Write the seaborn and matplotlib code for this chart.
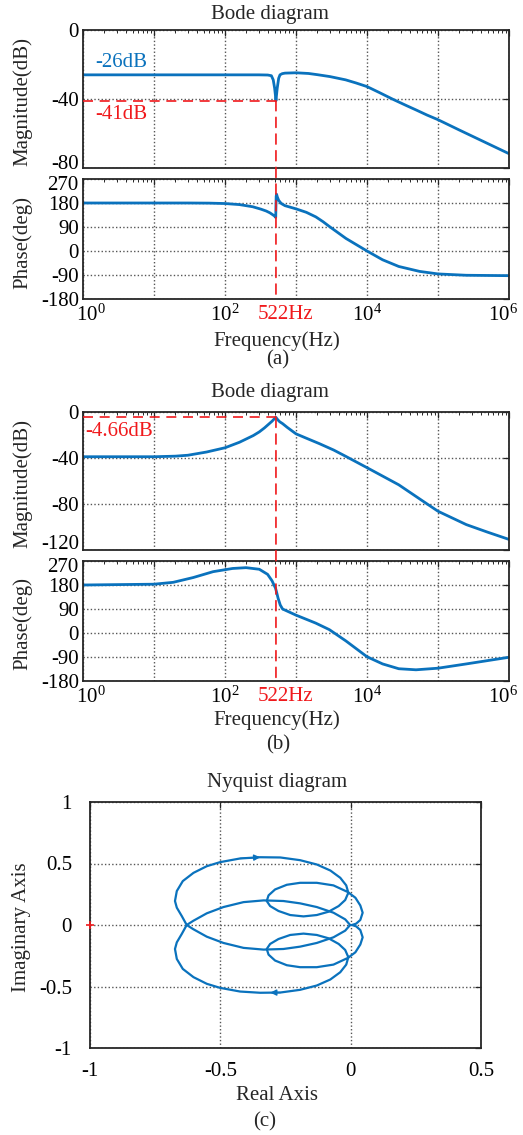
import numpy as np
import matplotlib
matplotlib.use("Agg")
import matplotlib.pyplot as plt
from matplotlib.patches import ConnectionPatch
from matplotlib.ticker import FixedLocator, FuncFormatter, LogLocator, NullFormatter
from matplotlib.transforms import ScaledTranslation
import seaborn as sns

# ------------------------------------------------------------------ data
f_res = 522            # resonance frequency, Hz
f_min, f_max = 1, 1e6  # Bode frequency span

# (a) open-loop response with notch
a_flat_db = -26
a_notch_db = -41
a_mag_freq = [1, 10, 100, 200, 300, 400, 450, 478, 500, 512,
              522, 532, 544, 570, 595, 640, 700, 1000, 1500, 2000,
              3000, 5000, 7000, 1e4, 1.5e4, 2.3e4, 3.5e4, 5e4, 7e4, 1e5,
              2e5, 5e5, 1e6]
a_mag_db = [-26, -26, -26, -26, -26, -26.1, -26.5, -28.9, -33.7, -37.5,
            -41, -37.5, -33.7, -28, -26, -25.3, -25.0, -24.8, -25.2, -25.9,
            -27.0, -28.9, -30.7, -32.8, -36.3, -40.1, -43.6, -46.5, -49.3, -52.0,
            -58.0, -65.8, -71.7]
a_ph_freq = [1, 10, 30, 60, 100, 160, 245, 320, 380, 430,
             470, 500, 512, 518, 522, 526, 532, 545, 570, 620,
             700, 1000, 1400, 1900, 2400, 2950, 5060, 1e4, 1.66e4, 2.8e4,
             5.5e4, 1e5, 2.5e5, 1e6]
a_ph_deg = [180, 180, 180, 179.5, 178, 174, 166, 157, 150, 143,
            136, 131, 127, 126, 170, 205, 213, 203, 190, 178,
            170, 158, 145, 128, 110, 92, 47, 0, -33, -58,
            -76.5, -86, -91, -92.5]

# (b) open-loop response with resonance peak
b_peak_db = -4.66
b_mag_freq = [1, 10, 20, 30, 55, 100, 160, 250, 304, 360,
              421, 460, 490, 510, 522, 535, 555, 590, 647, 750,
              1000, 1400, 2130, 3400, 5000, 1e4, 2.8e4, 6.2e4, 1e5, 2.5e5,
              5e5, 1e6]
b_mag_db = [-38.9, -38.9, -38.4, -37.6, -34.8, -31.1, -26.3, -20.5, -17.3, -13.8,
            -10.1, -8.0, -6.2, -5.2, -4.66, -5.6, -6.8, -8.5, -10.1, -13.3,
            -19.0, -22.8, -27.5, -33.1, -38.5, -48.4, -63.3, -77.7, -86.3, -97.9,
            -104.5, -110.8]
b_ph_freq = [1, 10, 18.6, 35.7, 68, 128, 198, 304, 398, 459,
             494, 515, 533, 560, 600, 647, 1000, 1900, 2950, 5060,
             1e4, 1.66e4, 2.8e4, 4.9e4, 1e5, 2.5e5, 1e6]
b_ph_deg = [180, 183, 190, 208, 230, 242, 245, 239, 220, 196,
            178, 168, 153, 130, 105, 90, 67, 37, 12.6, -30,
            -89, -116, -134, -138, -132, -116, -91]

# (c) Nyquist locus, one frequency branch (the other is its conjugate)
nyq_re = [-0.002, -0.021, -0.066, -0.130, -0.194, -0.258, -0.334, -0.411, -0.488, -0.552, -0.603, -0.629,
          -0.648, -0.667, -0.674, -0.667, -0.644, -0.603, -0.552, -0.501, -0.424, -0.347,
          -0.270, -0.194, -0.130, -0.078, -0.040, -0.017, -0.009, -0.021, -0.046, -0.085,
          -0.130, -0.181, -0.232, -0.277, -0.309, -0.322, -0.315, -0.290, -0.245, -0.194,
          -0.130, -0.066, -0.011, 0.018, 0.037, 0.046, 0.037, 0.021, 0.005]
nyq_im = [0, -0.046, -0.100, -0.146, -0.176, -0.195, -0.200, -0.186, -0.146, -0.095, -0.035, 0,
          0.073, 0.141, 0.195, 0.276, 0.357, 0.424, 0.478, 0.511, 0.541, 0.551,
          0.549, 0.527, 0.492, 0.443, 0.384, 0.322, 0.262, 0.203, 0.154, 0.108,
          0.081, 0.070, 0.081, 0.114, 0.154, 0.195, 0.241, 0.289, 0.327, 0.343,
          0.343, 0.322, 0.268, 0.222, 0.159, 0.100, 0.041, 0.011, 0]
critical_point = (-1, 0)

mag_ticks_a = [-80, -40, 0]
mag_ticks_b = [-120, -80, -40, 0]
phase_ticks = [-180, -90, 0, 90, 180, 270]
nyq_xticks = [-1, -0.5, 0, 0.5]
nyq_yticks = [-1, -0.5, 0, 0.5, 1]

# ------------------------------------------------------------------ style
sns.set_theme(style="white")
plt.rcParams["font.family"] = ["Liberation Serif", "DejaVu Serif"]
plt.rcParams["mathtext.fontset"] = "custom"
plt.rcParams["mathtext.rm"] = "Liberation Serif"
plt.rcParams["mathtext.it"] = "Liberation Serif:italic"
plt.rcParams["axes.unicode_minus"] = False

FS = 15
BLUE = "#0a72bd"
RED = "#f0191c"
EDGE = "#262626"
GRID = "#555555"
W, H = 523, 1135

fig = plt.figure(figsize=(W / 100, H / 100), dpi=100)


def px_axes(x0, y0, x1, y1):
    return fig.add_axes([x0 / W, 1 - y1 / H, (x1 - x0) / W, (y1 - y0) / H])


def fig_text(x, y, s, **kw):
    kw.setdefault("fontsize", FS)
    kw.setdefault("ha", "center")
    kw.setdefault("va", "center")
    return fig.text(x / W, 1 - y / H, s, **kw)


def nudge(label, dx_px, dy_px):
    """Shift a tick label by a few pixels (positive dy moves it up)."""
    label.set_transform(label.get_transform()
                        + ScaledTranslation(dx_px / 100, dy_px / 100, fig.dpi_scale_trans))


def frame(ax):
    for s in ax.spines.values():
        s.set_visible(True)
        s.set_color(EDGE)
        s.set_linewidth(1.3)
    ax.tick_params(which="both", direction="in", top=True, right=True,
                   color=EDGE, labelcolor="black", labelsize=FS)
    ax.tick_params(which="major", length=4, width=0.9)
    ax.tick_params(which="minor", length=2.5, width=0.7)
    ax.grid(True, which="major", linestyle=(0, (1, 1.6)), color=GRID, linewidth=1.0)
    ax.set_axisbelow(True)


def decade_label(v, pos):
    e = int(round(np.log10(v)))
    return rf"$10^{{{e}}}$" if e % 2 == 0 else ""


def bode_xaxis(ax, labels):
    ax.set_xscale("log")
    ax.set_xlim(f_min, f_max)
    ax.xaxis.set_major_locator(FixedLocator([10.0 ** k for k in range(0, 7)]))
    ax.xaxis.set_major_formatter(FuncFormatter(decade_label))
    ax.xaxis.set_minor_locator(LogLocator(base=10, subs=np.arange(2, 10)))
    ax.xaxis.set_minor_formatter(NullFormatter())
    ax.tick_params(axis="x", labelbottom=labels, pad=4)
    ax.tick_params(axis="y", pad=3)
    ax.set_xlabel("")
    ax.set_ylabel("")


def tick_text(ax, axis, ticks):
    if axis == "y":
        ax.set_yticks(ticks)
        ax.set_yticklabels([f"{t:g}" for t in ticks])
    else:
        ax.set_xticks(ticks)
        ax.set_xticklabels([f"{t:g}" for t in ticks])


def bode_pair(y_top, mag_f, mag_db, mag_lim, mag_ticks, ph_f, ph_deg, level_db, low_shift):
    ax_m = px_axes(83, y_top, 509, y_top + 138)
    ax_p = px_axes(83, y_top + 149, 509, y_top + 269)
    for ax in (ax_m, ax_p):
        frame(ax)
    sns.lineplot(x=mag_f, y=mag_db, ax=ax_m, color=BLUE, linewidth=2.0)
    sns.lineplot(x=ph_f, y=ph_deg, ax=ax_p, color=BLUE, linewidth=2.0)
    bode_xaxis(ax_m, False)
    bode_xaxis(ax_p, True)
    ax_m.set_ylim(*mag_lim)
    tick_text(ax_m, "y", mag_ticks)
    ax_p.set_ylim(-180, 270)
    tick_text(ax_p, "y", phase_ticks)

    # keep the stacked edge labels apart
    nudge(ax_m.get_yticklabels()[0], 0, low_shift)
    nudge(ax_p.get_yticklabels()[-1], 0, -4)
    xl = ax_p.get_xticklabels()
    nudge(xl[0], 8, 0)
    nudge(xl[-1], -6, 0)

    # marker lines at the resonance frequency
    dash = (0, (6, 4))
    ax_m.plot([f_min, f_res], [level_db, level_db], color=RED, linestyle=dash,
              linewidth=1.2, zorder=3)
    con = ConnectionPatch(xyA=(f_res, level_db), coordsA=ax_m.transData,
                          xyB=(f_res, -180), coordsB=ax_p.transData,
                          color=RED, linestyle=dash, linewidth=1.2, zorder=5)
    fig.add_artist(con)
    ax_p.annotate(f"{f_res}Hz", xy=(f_res, 0), xycoords=ax_p.get_xaxis_transform(),
                  xytext=(7, -11), textcoords="offset points",
                  ha="center", va="center", color=RED, fontsize=FS)
    return ax_m, ax_p


# ------------------------------------------------------------------ (a)
fig_text(270, 15, "Bode diagram")
ax1m, ax1p = bode_pair(30, a_mag_freq, a_mag_db, (-80, 0), mag_ticks_a,
                       a_ph_freq, a_ph_deg, a_notch_db, 6)
ax1m.text(0.028, 0.765, f"{a_flat_db:g}dB", transform=ax1m.transAxes,
          color=BLUE, fontsize=FS, ha="left", va="center")
ax1m.text(0.028, 0.385, f"{a_notch_db:g}dB", transform=ax1m.transAxes,
          color=RED, fontsize=FS, ha="left", va="center")
fig_text(23, 102, "Magnitude(dB)", rotation=90)
fig_text(23, 242, "Phase(deg)", rotation=90)
fig_text(277, 341, "Frequency(Hz)")
fig_text(278, 360, "(a)")

# ------------------------------------------------------------------ (b)
fig_text(270, 392, "Bode diagram")
ax2m, ax2p = bode_pair(412, b_mag_freq, b_mag_db, (-120, 0), mag_ticks_b,
                       b_ph_freq, b_ph_deg, b_peak_db, 8)
ax2m.text(0.006, 0.862, f"{b_peak_db:g}dB", transform=ax2m.transAxes,
          color=RED, fontsize=FS, ha="left", va="center")
fig_text(23, 484, "Magnitude(dB)", rotation=90)
fig_text(23, 624, "Phase(deg)", rotation=90)
fig_text(277, 720, "Frequency(Hz)")
fig_text(278, 745, "(b)")

# ------------------------------------------------------------------ (c)
fig_text(277, 782, "Nyquist diagram")
ax3 = px_axes(90, 802, 481, 1048)
frame(ax3)
re = np.array(nyq_re)
im = np.array(nyq_im)
sns.lineplot(x=re, y=im, ax=ax3, sort=False, estimator=None, color=BLUE, linewidth=1.6)
sns.lineplot(x=re, y=-im, ax=ax3, sort=False, estimator=None, color=BLUE, linewidth=1.6)
k = 21
ax3.annotate("", xy=(re[k], im[k]), xytext=(re[k - 1], im[k - 1]),
             arrowprops=dict(arrowstyle="-|>", color=BLUE, lw=1.0,
                             mutation_scale=9, shrinkA=0, shrinkB=0))
mid = ((re[k] + re[k + 1]) / 2, -(im[k] + im[k + 1]) / 2)
ax3.annotate("", xy=mid, xytext=(re[k + 1], -im[k + 1]),
             arrowprops=dict(arrowstyle="-|>", color=BLUE, lw=1.0,
                             mutation_scale=9, shrinkA=0, shrinkB=0))
ax3.plot(*critical_point, marker="+", color=RED, markersize=6, mew=1.2,
         clip_on=False, zorder=6)
ax3.set_xlim(-1, 0.5)
ax3.set_ylim(-1, 1)
tick_text(ax3, "x", nyq_xticks)
tick_text(ax3, "y", nyq_yticks)
ax3.tick_params(axis="x", pad=10)
ax3.tick_params(axis="y", pad=13)
ax3.set_xlabel("")
ax3.set_ylabel("")
fig_text(22, 927, "Imaginary Axis", rotation=90)
fig_text(277, 1095, "Real Axis")
fig_text(265, 1122, "(c)")

fig.savefig("out.png", dpi=100)
